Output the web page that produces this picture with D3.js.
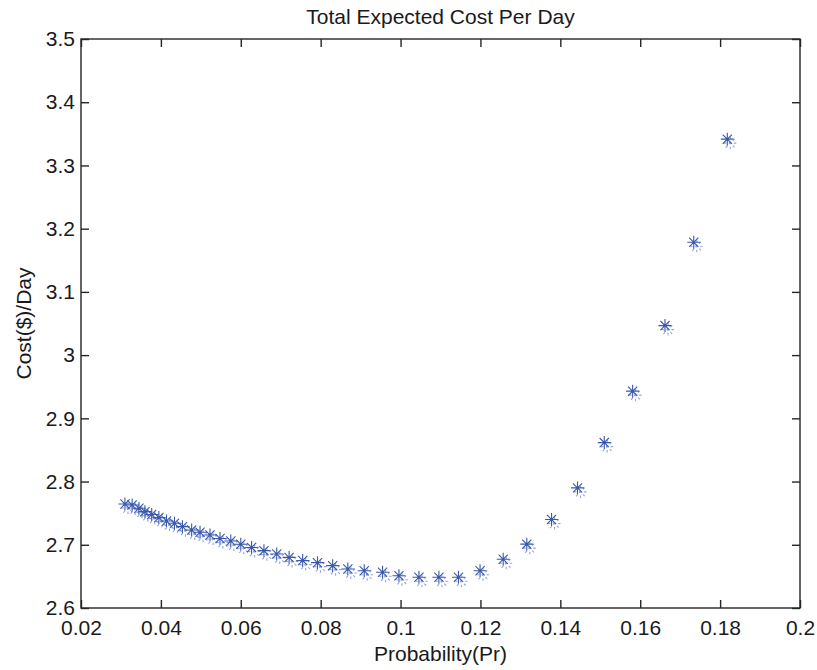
<!DOCTYPE html>
<html>
<head>
<meta charset="utf-8">
<script src="https://cdn.jsdelivr.net/npm/d3@7"></script>
<style>
  html, body { margin: 0; padding: 0; background: #fff; }
  svg { display: block; font-family: "Liberation Sans", Arial, sans-serif; }
</style>
</head>
<body>
<svg id="chart" width="817" height="670"></svg>
<script>
const probability = [0.0310, 0.0328, 0.0345, 0.0360, 0.0377, 0.0395, 0.0414, 0.0434, 0.0454, 0.0477,
  0.0498, 0.0523, 0.0548, 0.0575, 0.0600, 0.0627, 0.0658, 0.0690, 0.0721, 0.0755,
  0.0792, 0.0830, 0.0868, 0.0909, 0.0955, 0.0996, 0.1046, 0.1096, 0.1145, 0.1199,
  0.1257, 0.1316, 0.1378, 0.1443, 0.1510, 0.1581, 0.1662, 0.1734, 0.1818];
const costPerDay = [2.7646, 2.7630, 2.7578, 2.7524, 2.7480, 2.7430, 2.7377, 2.7340, 2.7287, 2.7234,
  2.7197, 2.7155, 2.7100, 2.7060, 2.7008, 2.6958, 2.6907, 2.6854, 2.6800, 2.6750,
  2.6717, 2.6670, 2.6617, 2.6590, 2.6565, 2.6510, 2.6486, 2.6486, 2.6486, 2.6590,
  2.6770, 2.7010, 2.7400, 2.7900, 2.8616, 2.9430, 3.0467, 3.1786, 3.3416];
const xTicks = [0.02, 0.04, 0.06, 0.08, 0.1, 0.12, 0.14, 0.16, 0.18, 0.2];
const yTicks = [2.6, 2.7, 2.8, 2.9, 3.0, 3.1, 3.2, 3.3, 3.4, 3.5];
const xTickLabels = ["0.02", "0.04", "0.06", "0.08", "0.1", "0.12", "0.14", "0.16", "0.18", "0.2"];
const yTickLabels = ["2.6", "2.7", "2.8", "2.9", "3", "3.1", "3.2", "3.3", "3.4", "3.5"];
const titleText = "Total Expected Cost Per Day";
const xLabelText = "Probability(Pr)";
const yLabelText = "Cost($)/Day";

const svg = d3.select("#chart");
const L = 81, R = 800, T = 39, B = 608;
const x = d3.scaleLinear().domain([0.02, 0.2]).range([L, R]);
const y = d3.scaleLinear().domain([2.6, 3.5]).range([B, T]);
const axisColor = "#262626";
const fontSize = 21;
const tickLen = 8;

// Box
svg.append("rect").attr("x", L).attr("y", T).attr("width", R - L).attr("height", B - T)
  .attr("fill", "none").attr("stroke", axisColor).attr("stroke-width", 1.4);

function styleAxis(g) {
  g.select(".domain").remove();
  g.selectAll(".tick line").attr("stroke", axisColor).attr("stroke-width", 1.4);
  g.selectAll(".tick text").attr("fill", "#1a1a1a").attr("font-size", fontSize)
   .attr("font-family", "Liberation Sans, Arial, sans-serif");
}

const fmtX = (d, i) => xTickLabels[i];
const fmtY = (d, i) => yTickLabels[i];
svg.append("g").attr("transform", `translate(0,${B})`)
  .call(d3.axisBottom(x).tickValues(xTicks).tickFormat(fmtX).tickSize(-tickLen).tickPadding(12))
  .call(styleAxis)
  .call(g => g.selectAll(".tick text").attr("dy", "0.71em").attr("y", 12));
svg.append("g").attr("transform", `translate(0,${T})`)
  .call(d3.axisTop(x).tickValues(xTicks).tickFormat("").tickSize(-tickLen))
  .call(styleAxis);
svg.append("g").attr("transform", `translate(${L},0)`)
  .call(d3.axisLeft(y).tickValues(yTicks).tickFormat(fmtY).tickSize(-tickLen).tickPadding(6))
  .call(styleAxis)
  .call(g => g.selectAll(".tick text").attr("x", -6));
svg.append("g").attr("transform", `translate(${R},0)`)
  .call(d3.axisRight(y).tickValues(yTicks).tickFormat("").tickSize(-tickLen))
  .call(styleAxis);

// Markers: MATLAB-style asterisk
const data = probability.map((p, i) => ({ p, c: costPerDay[i] }));
const r = 6.5, rd = 4.6;
const starPath = `M${-r},0L${r},0M0,${-r}L0,${r}M${-rd},${-rd}L${rd},${rd}M${-rd},${rd}L${rd},${-rd}`;
const marks = svg.append("g");
marks.selectAll("path.ghost").data(data).join("path")
  .attr("class", "ghost")
  .attr("transform", d => `translate(${x(d.p) + 3},${y(d.c) + 4})`)
  .attr("d", starPath)
  .attr("fill", "none").attr("stroke", "#5a76c2").attr("stroke-width", 1.1)
  .attr("stroke-dasharray", "2.5,2.5").attr("opacity", 0.65);
marks.selectAll("path.star").data(data).join("path")
  .attr("class", "star")
  .attr("transform", d => `translate(${x(d.p)},${y(d.c)})`)
  .attr("d", starPath)
  .attr("fill", "none").attr("stroke", "#3a58ad").attr("stroke-width", 1.1);

svg.append("text").attr("x", (L + R) / 2).attr("y", 24).attr("text-anchor", "middle")
  .attr("font-size", fontSize).attr("fill", "#1a1a1a").text(titleText);
svg.append("text").attr("x", (L + R) / 2).attr("y", 661).attr("text-anchor", "middle")
  .attr("font-size", fontSize).attr("fill", "#1a1a1a").text(xLabelText);
svg.append("text").attr("transform", `translate(31,${(T + B) / 2}) rotate(-90)`)
  .attr("text-anchor", "middle").attr("font-size", fontSize).attr("fill", "#1a1a1a").text(yLabelText);
</script>
</body>
</html>
